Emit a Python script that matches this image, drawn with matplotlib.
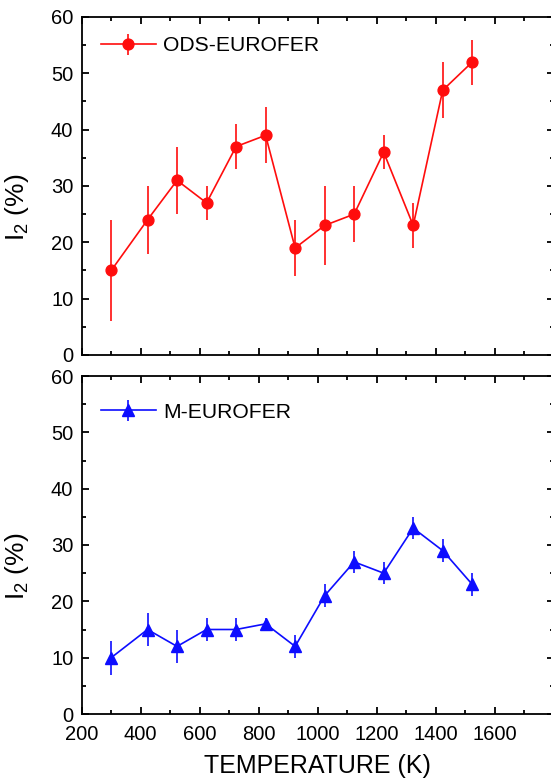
import numpy as np
import matplotlib
matplotlib.use("Agg")
import matplotlib.pyplot as plt
from matplotlib.ticker import MultipleLocator, FixedLocator

plt.rcParams['font.family'] = ['Liberation Sans', 'DejaVu Sans']
plt.rcParams['mathtext.default'] = 'regular'

# temperatures (K)
temp = [300, 423, 523, 623, 723, 823, 923, 1023, 1123, 1223, 1323, 1423, 1523]

# ODS-EUROFER
ods_i2 = [15, 24, 31, 27, 37, 39, 19, 23, 25, 36, 23, 47, 52]
ods_err = [9, 6, 6, 3, 4, 5, 5, 7, 5, 3, 4, 5, 4]

# M-EUROFER
m_i2 = [10, 15, 12, 15, 15, 16, 12, 21, 27, 25, 33, 29, 23]
m_err = [3, 3, 3, 2, 2, 1, 2, 2, 2, 2, 2, 2, 2]

x_ticks = [200, 400, 600, 800, 1000, 1200, 1400, 1600]

W, H = 551, 780
fig = plt.figure(figsize=(W / 100, H / 100), dpi=100)

left = 81.7 / W
width = (554 - 81.7) / W
ax1 = fig.add_axes([left, 1 - 355 / H, width, 338 / H])
ax2 = fig.add_axes([left, 1 - 714 / H, width, 338 / H])


def style(ax):
    ax.set_xlim(200, 1800)
    ax.set_ylim(0, 60)
    ax.xaxis.set_major_locator(FixedLocator(x_ticks))
    ax.xaxis.set_minor_locator(MultipleLocator(100))
    ax.yaxis.set_major_locator(MultipleLocator(10))
    ax.yaxis.set_minor_locator(MultipleLocator(5))
    ax.tick_params(which='both', direction='in', top=True, right=True,
                   width=1.3, labelsize=14.5, pad=6)
    ax.tick_params(axis='x', which='both', pad=8)
    ax.tick_params(which='major', length=5)
    ax.tick_params(which='minor', length=3)
    for s in ax.spines.values():
        s.set_linewidth(1.3)
    ax.set_ylabel('I$_2$ (%)', fontsize=19)
    ax.yaxis.set_label_coords(-0.107, 0.438)


ax1.errorbar(temp, ods_i2, yerr=ods_err, color='#ff0d0d', marker='o',
             markersize=7.8, linewidth=1.2, elinewidth=1.2, capsize=0,
             label='ODS-EUROFER')
ax2.errorbar(temp, m_i2, yerr=m_err, color='#0d0dff', marker='^',
             markersize=8.2, linewidth=1.2, elinewidth=1.2, capsize=0,
             label='M-EUROFER')

for ax, dy in ((ax1, 29), (ax2, 36)):
    style(ax)
    ax.legend(loc='center left', bbox_to_anchor=(19 / 472, 1 - dy / 338),
              frameon=False, fontsize=15.2, handlelength=2.6,
              handletextpad=0.35, borderpad=0, borderaxespad=0)

ax1.tick_params(labelbottom=False)
ax2.set_xlabel('TEMPERATURE (K)', fontsize=18, labelpad=7)

fig.savefig('out.png', dpi=100)
